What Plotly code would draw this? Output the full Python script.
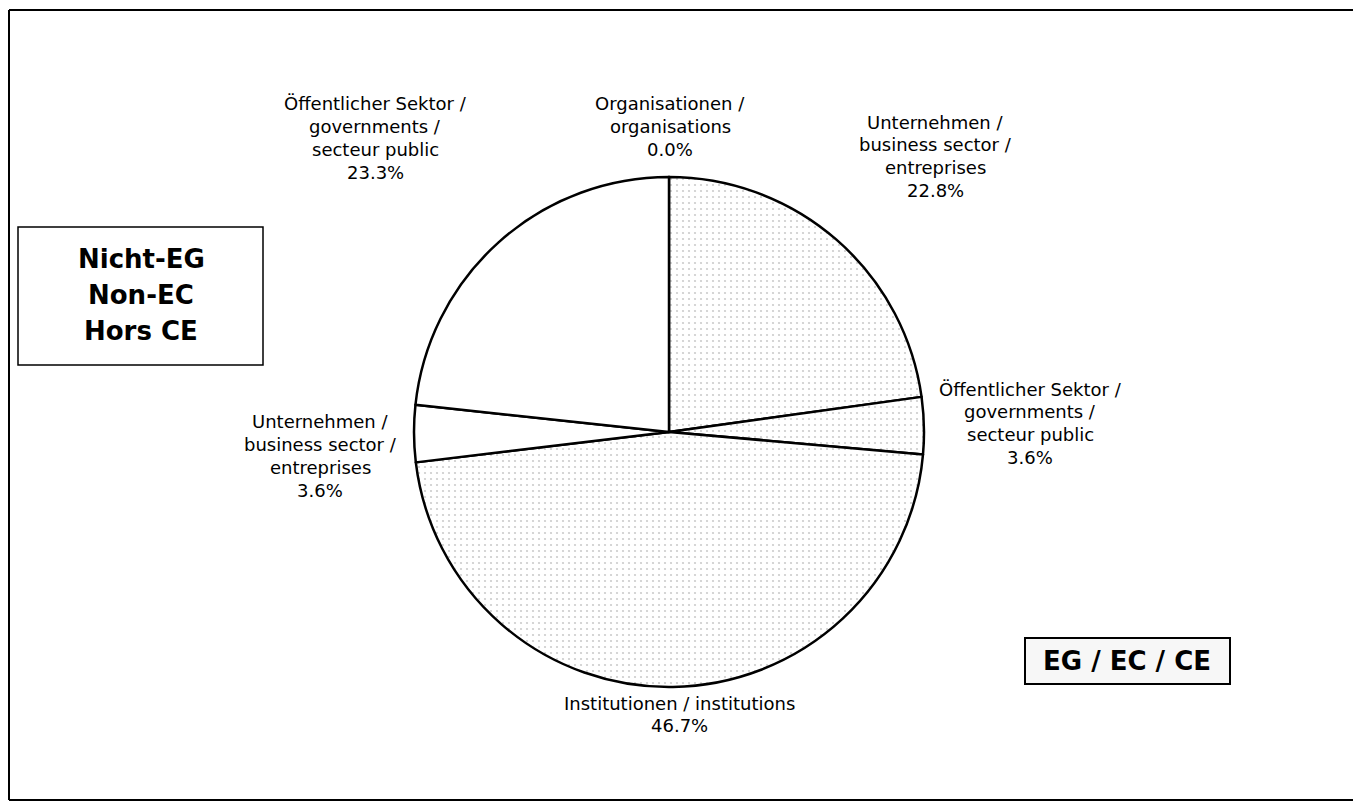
import plotly.graph_objects as go

# page is 1361x809; the body keeps an 8px margin, so the figure fits inside it
OFF = 8
W, H = 1361 - 2 * OFF, 809 - 2 * OFF

# data, clockwise from 12 o'clock
labels = [
    "Organisationen /<br>organisations",
    "Unternehmen /<br>business sector /<br>entreprises",
    "Öffentlicher Sektor /<br>governments /<br>secteur public",
    "Institutionen / institutions",
    "Unternehmen /<br>business sector /<br>entreprises",
    "Öffentlicher Sektor /<br>governments /<br>secteur public",
]
values = [0.0, 22.8, 3.6, 46.7, 3.6, 23.3]
group = ["EC", "EC", "EC", "EC", "Non-EC", "Non-EC"]

# label anchors: text centre x, first line centre y (page pixels)
label_pos = [(670, 104), (935, 122), (1030, 389), (679, 703), (320, 422), (375, 104)]
LINE = 22.7
FONT = "DejaVu Sans, Liberation Sans, Arial, sans-serif"


def px(x):
    return (x - OFF) / W


def py(y):
    return 1 - (y - OFF) / H


def text_line(x, y, s, size, bold=False):
    fig.add_annotation(
        x=px(x), y=py(y), xref="paper", yref="paper",
        text=f"<b>{s}</b>" if bold else s,
        showarrow=False, xanchor="center", yanchor="middle",
        font=dict(family=FONT, size=size, color="black"),
    )


cx, cy, r = 669, 432, 255

fig = go.Figure()
fig.add_trace(go.Pie(
    labels=[f"{l} ({g})" for l, g in zip(labels, group)],
    values=values,
    sort=False,
    direction="clockwise",
    rotation=0,
    textinfo="none",
    hoverinfo="label+percent",
    showlegend=False,
    domain=dict(x=[px(cx - r), px(cx + r)], y=[py(cy + r), py(cy - r)]),
    marker=dict(
        colors=["#fbfbfb" if g == "EC" else "white" for g in group],
        line=dict(color="black", width=2.5),
        pattern=dict(
            shape=["." if g == "EC" else "" for g in group],
            fgcolor="#cccccc",
            bgcolor="white",
            size=6,
            solidity=0.1,
        ),
    ),
))

frame = dict(color="black", width=2)
shapes = [
    # outer frame: left, top, bottom (right edge is cut off in the scan)
    dict(type="line", x0=px(9), x1=px(9), y0=py(800), y1=py(10), line=frame),
    dict(type="line", x0=px(9), x1=px(1361), y0=py(10), y1=py(10), line=frame),
    dict(type="line", x0=px(9), x1=px(1361), y0=py(800), y1=py(800), line=frame),
    # Non-EC box
    dict(type="rect", x0=px(18), x1=px(263), y0=py(365), y1=py(227),
         line=dict(color="black", width=1.5), fillcolor="white"),
    # EC box
    dict(type="rect", x0=px(1025), x1=px(1230), y0=py(684), y1=py(638),
         line=dict(color="black", width=2), fillcolor="#f7f7f7"),
]
fig.update_layout(shapes=shapes)

for (x, y), lab, v in zip(label_pos, labels, values):
    lines = lab.split("<br>") + [f"{v:.1f}%"]
    for i, s in enumerate(lines):
        text_line(x, y + i * LINE, s, 18)

for i, s in enumerate(["Nicht-EG", "Non-EC", "Hors CE"]):
    text_line(141, 259 + i * 36, s, 26, bold=True)
text_line(1127, 661, "EG / EC / CE", 26, bold=True)

fig.update_layout(
    width=W, height=H,
    margin=dict(l=0, r=0, t=0, b=0),
    paper_bgcolor="white",
    plot_bgcolor="white",
)
fig.write_html("out.html")
